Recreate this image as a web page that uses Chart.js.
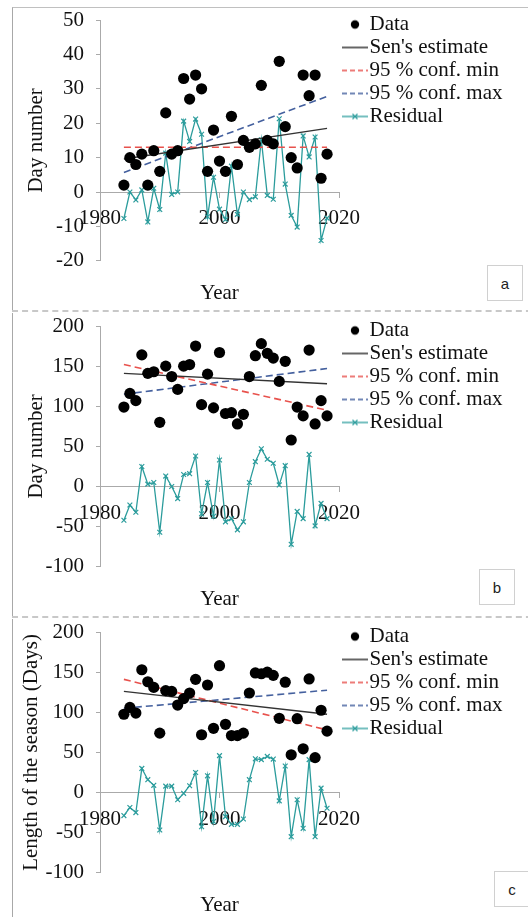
<!DOCTYPE html>
<html>
<head>
<meta charset="utf-8">
<script src="https://cdn.jsdelivr.net/npm/chart.js@4.4.0/dist/chart.umd.min.js"></script>
<style>
body { margin: 0; background: #fff; width: 528px; height: 917px; overflow: hidden; position: relative; }
.frame { position: absolute; left: 12px; width: 530px; border-left: 1px solid #a8a8a8; }
.sep { position: absolute; left: 12px; width: 530px; height: 0; border-top: 2px dashed #c8c8c8; }
canvas { position: absolute; left: 13px; }
.tag { position: absolute; width: 34px; height: 34px; border: 1px solid #d0d0d0; background: #fff;
       font: 15px "Liberation Sans", sans-serif; color: #222;
       display: flex; align-items: center; justify-content: center; }
</style>
</head>
<body>
<div class="frame" style="top:7px;height:304px;border-top:1px solid #c0c0c0"></div>
<div class="sep" style="top:310px"></div>
<div class="frame" style="top:313px;height:303px"></div>
<div class="sep" style="top:616px"></div>
<div class="frame" style="top:619px;height:298px"></div>

<canvas id="chartA" width="515" height="301" style="top:8px"></canvas>
<canvas id="chartB" width="515" height="301" style="top:314px"></canvas>
<canvas id="chartC" width="515" height="301" style="top:620px"></canvas>

<div class="tag" style="left:487px;top:265px">a</div>
<div class="tag" style="left:479px;top:569px">b</div>
<div class="tag" style="left:494px;top:871px">c</div>

<script>
// years of observation
const years = [1984, 1985, 1986, 1987, 1988, 1989, 1990, 1991, 1992, 1993,
               1994, 1995, 1996, 1997, 1998, 1999, 2000, 2001, 2002, 2003,
               2004, 2005, 2006, 2007, 2008, 2009, 2010, 2011, 2012, 2013,
               2014, 2015, 2016, 2017, 2018];
// trend lines run from first to last year
const lineYears = [1984, 2018];
const xTicks = [1980, 2000, 2020];

// panel a
const dataA = [2, 10, 8, 11, 2, 12, 6, 23, 11, 12, 33, 27, 34, 30, 6, 18, 9, 6, 22, 8,
               15, 13, 14, 31, 15, 14, 38, 19, 10, 7, 34, 28, 34, 4, 11];
const residA = [-7.7, 0, -2.3, 0.6, -8.7, 1.1, -5.1, 11.3, -0.7, 0, 20.6, 14.7, 21.2, 16.8, -7.2,
                4.3, -5, -8, 7.5, -6.5, 0, -2.2, -1.4, 15.2, -1, -2.1, 21.3, 2.3, -6.8, -10.2,
                16.3, 10.2, 16, -14.1, -7.6];
const senA = [9.6, 18.5];
const minA = [13, 13];
const maxA = [5.7, 27.8];

// panel b
const dataB = [99, 116, 107, 164, 141, 143, 80, 150, 137, 121, 150, 152, 175, 102, 140,
               98, 167, 91, 92, 78, 90, 137, 163, 178, 166, 160, 131, 156, 58, 99,
               88, 170, 78, 107, 88];
const residB = [-42, -23, -32, 25, 3, 5, -57, 13, 0, -15, 15, 16, 38, -34, 5,
                -37, 33, -44, -40, -54, -44, 5, 31, 47, 34, 29, 2, 26, -72, -31,
                -40, 40, -49, -21, -40];
const senB = [141, 128];
const minB = [152, 95];
const maxB = [115, 147];

// panel c
const dataC = [97.5, 106, 99, 153, 138, 131, 74, 127, 126, 109, 117, 124, 141, 72, 134,
               80, 158, 85, 71, 71, 74, 124, 149, 148, 150, 146, 92.5, 137.5, 47, 92,
               54.5, 141.5, 43.5, 102.5, 76.5];
const residC = [-28.7, -18.7, -25, 30, 16, 9, -46.7, 8, 8, -9, -1, 8.5, 25, -42.5, 20.8,
                -36, 46, -30, -39.6, -39.6, -33, 16, 42, 41, 45, 41.7, -10.4, 33, -55, -9,
                -44.6, 41, -55, 5.4, -19.6];
const senC = [126, 97.5];
const minC = [141, 78];
const maxC = [105, 127.5];

const legendLabels = ['Data', "Sen's estimate", '95 % conf. min', '95 % conf. max', 'Residual'];

const cData = '#000000';
const cSen = '#333333';
const cMin = '#e8524d';
const cMax = '#44609e';
const cRes = '#2b9c9c';
const serif = { family: 'Liberation Serif', size: 21 };

// legend sits right of the plot; work out how much room it takes
// so the plot's right edge (2020) stays where it is in the figure
const canvasW = 515;
const plotRight = 326;
const mctx = document.createElement('canvas').getContext('2d');
mctx.font = '21px "Liberation Serif"';
const textW = Math.max(...legendLabels.map(t => mctx.measureText(t).width));
const legendW = 2 + 18 + 10.5 + textW + 10;
const padRight = Math.max(0, canvasW - plotRight - legendW);

// little pictures for the legend (dot, lines, line with x)
function symbol(kind) {
  const c = document.createElement('canvas');
  c.width = 36; c.height = 14;
  const g = c.getContext('2d');
  const y = 7;
  if (kind === 'dot') {
    g.fillStyle = cData;
    g.beginPath(); g.arc(23, y, 4.2, 0, Math.PI * 2); g.fill();
    return c;
  }
  g.lineWidth = 1.5;
  if (kind === 'sen') { g.strokeStyle = cSen; }
  if (kind === 'min') { g.strokeStyle = cMin; g.setLineDash([5, 3]); }
  if (kind === 'max') { g.strokeStyle = cMax; g.setLineDash([5, 3]); }
  if (kind === 'res') { g.strokeStyle = cRes; g.lineWidth = 1.3; }
  g.beginPath(); g.moveTo(10, y); g.lineTo(36, y); g.stroke();
  if (kind === 'res') {
    g.beginPath();
    g.moveTo(20.5, y - 2.5); g.lineTo(25.5, y + 2.5);
    g.moveTo(25.5, y - 2.5); g.lineTo(20.5, y + 2.5);
    g.stroke();
  }
  return c;
}
const symbols = [symbol('dot'), symbol('sen'), symbol('min'), symbol('max'), symbol('res')];

function pts(xs, ys) {
  return xs.map((x, i) => ({ x: x, y: ys[i] }));
}

function makePanel(id, yTitle, titlePad, yMin, yMax, yStep, dots, sen, lo, hi, resid) {
  const ctx = document.getElementById(id).getContext('2d');
  return new Chart(ctx, {
    type: 'line',
    data: {
      datasets: [
        {
          label: legendLabels[0], data: pts(years, dots), showLine: false,
          pointStyle: 'circle', pointRadius: 5.6, pointBorderWidth: 0,
          backgroundColor: cData, borderColor: cData, xAxisID: 'x'
        },
        {
          label: legendLabels[1], data: pts(lineYears, sen),
          borderColor: cSen, borderWidth: 1.4, pointRadius: 0, xAxisID: 'x'
        },
        {
          label: legendLabels[2], data: pts(lineYears, lo),
          borderColor: cMin, borderWidth: 1.6, borderDash: [7, 4], pointRadius: 0, xAxisID: 'x'
        },
        {
          label: legendLabels[3], data: pts(lineYears, hi),
          borderColor: cMax, borderWidth: 1.6, borderDash: [7, 4], pointRadius: 0, xAxisID: 'x'
        },
        {
          label: legendLabels[4], data: pts(years, resid),
          borderColor: cRes, backgroundColor: cRes, borderWidth: 1.3,
          pointStyle: 'crossRot', pointRadius: 3.4, pointBorderWidth: 1.2, xAxisID: 'x'
        }
      ]
    },
    options: {
      responsive: false,
      animation: false,
      layout: { padding: { top: 4, right: padRight, left: 0, bottom: 0 } },
      plugins: {
        tooltip: { enabled: false },
        legend: {
          position: 'right',
          align: 'start',
          maxWidth: 400,
          labels: {
            usePointStyle: true,
            pointStyleWidth: 18,
            padding: 2,
            color: '#111',
            font: serif,
            generateLabels: (chart) =>
              Chart.defaults.plugins.legend.labels.generateLabels(chart)
                .map((it, i) => Object.assign(it, { pointStyle: symbols[i] }))
          }
        }
      },
      scales: {
        x: {
          type: 'linear',
          position: { y: 0 },
          min: 1980, max: 2020,
          afterBuildTicks: (s) => { s.ticks = xTicks.map(v => ({ value: v })); },
          ticks: { callback: (v) => String(v), padding: 9, color: '#111', font: serif, maxRotation: 0, autoSkip: false },
          grid: { drawOnChartArea: false, tickLength: 5, color: '#aaa' },
          border: { color: '#aaa' }
        },
        x2: {
          type: 'linear',
          position: 'bottom',
          min: 1980, max: 2020,
          ticks: { display: false },
          grid: { display: false, drawTicks: false },
          border: { display: false },
          title: { display: true, text: 'Year', color: '#111', font: serif, padding: { top: 20, bottom: 3 } }
        },
        y: {
          min: yMin, max: yMax,
          ticks: { stepSize: yStep, padding: 12, color: '#111', font: serif },
          grid: { drawOnChartArea: false, tickLength: 4, color: '#aaa' },
          border: { color: '#aaa' },
          title: { display: true, text: yTitle, color: '#111', font: serif, padding: { top: titlePad, bottom: 0 } },
          afterFit: (s) => { s.width = 87; s.paddingTop = 12; s.paddingBottom = 0; }
        }
      }
    }
  });
}

makePanel('chartA', 'Day number', 11, -20, 50, 10, dataA, senA, minA, maxA, residA);
makePanel('chartB', 'Day number', 11, -100, 200, 50, dataB, senB, minB, maxB, residB);
makePanel('chartC', 'Length of the season (Days)', 6, -100, 200, 50, dataC, senC, minC, maxC, residC);
</script>
</body>
</html>
